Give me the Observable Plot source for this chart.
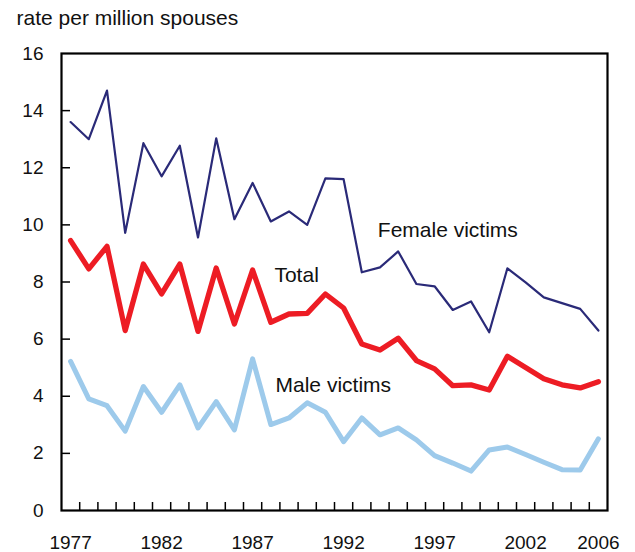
<!DOCTYPE html>
<html>
<head>
<meta charset="utf-8">
<script src="https://cdn.jsdelivr.net/npm/d3@7"></script>
<script src="https://cdn.jsdelivr.net/npm/@observablehq/plot@0.6"></script>
<style>
  html, body { margin: 0; padding: 0; background: #fff; }
</style>
</head>
<body>
<div id="chart"></div>
<script>
const years = [1977, 1978, 1979, 1980, 1981, 1982, 1983, 1984, 1985, 1986,
               1987, 1988, 1989, 1990, 1991, 1992, 1993, 1994, 1995, 1996,
               1997, 1998, 1999, 2000, 2001, 2002, 2003, 2004, 2005, 2006];
const female = [13.6, 13.0, 14.7, 9.72, 12.86, 11.70, 12.77, 9.56, 13.03, 10.2,
                11.47, 10.12, 10.47, 10.0, 11.63, 11.6, 8.34, 8.51, 9.07, 7.93,
                7.85, 7.02, 7.32, 6.24, 8.48, 7.99, 7.46, 7.26, 7.06, 6.30];
const total = [9.45, 8.46, 9.25, 6.30, 8.63, 7.58, 8.63, 6.27, 8.49, 6.53,
               8.42, 6.59, 6.88, 6.90, 7.58, 7.09, 5.83, 5.62, 6.03, 5.25,
               4.96, 4.37, 4.40, 4.22, 5.40, 5.01, 4.61, 4.40, 4.29, 4.51];
const male = [5.22, 3.91, 3.67, 2.78, 4.34, 3.44, 4.40, 2.89, 3.81, 2.82,
              5.31, 3.01, 3.24, 3.77, 3.44, 2.41, 3.24, 2.65, 2.89, 2.47,
              1.92, 1.66, 1.38, 2.12, 2.22, 1.96, 1.69, 1.43, 1.42, 2.51];
const yearLabels = [1977, 1982, 1987, 1992, 1997, 2002, 2006];
const yTicks = [0, 2, 4, 6, 8, 10, 12, 14, 16];
const title = "rate per million spouses";
const seriesLabels = [
  {name: "Female victims", year: 1993.88, value: 9.80},
  {name: "Total", year: 1988.2, value: 8.22},
  {name: "Male victims", year: 1988.26, value: 4.40}
];

const rows = (vals) => years.map((y, i) => ({year: y, value: vals[i]}));
const yearBounds = years.slice(1).map((y) => y - 0.5);
const innerW = 635 - 61 - 28;
const innerH = 552 - 53 - 42;

const chart = Plot.plot({
  width: 635,
  height: 552,
  marginLeft: 61,
  marginRight: 28,
  marginTop: 53,
  marginBottom: 42,
  style: {fontFamily: "'Liberation Sans', Arial, sans-serif", fontSize: "19px", color: "#111", background: "#fff"},
  x: {domain: [years[0] - 0.5, years[years.length - 1] + 0.5], label: null},
  y: {domain: [0, 16], label: null},
  marks: [
    Plot.axisX({ticks: yearLabels, tickSize: 0, tickPadding: 25, tickFormat: (d) => String(d), fontSize: 19, label: null}),
    Plot.axisY({ticks: yTicks, tickSize: 0, tickPadding: 18, fontSize: 19, label: null}),
    Plot.tickX(yearBounds, {x: (d) => d, insetTop: innerH - 8, stroke: "#000", strokeWidth: 1.5}),
    Plot.tickY(yTicks.slice(1, -1), {y: (d) => d, insetRight: innerW - 9, stroke: "#000", strokeWidth: 1.5}),
    Plot.frame({stroke: "#000", strokeWidth: 2.2}),
    Plot.line(rows(male), {x: "year", y: "value", stroke: "#9dcaeb", strokeWidth: 5}),
    Plot.line(rows(total), {x: "year", y: "value", stroke: "#ed1c24", strokeWidth: 5.3}),
    Plot.line(rows(female), {x: "year", y: "value", stroke: "#2a2a78", strokeWidth: 2.2}),
    Plot.text(seriesLabels, {x: "year", y: "value", text: "name", textAnchor: "start", fontSize: 21, fill: "#111"}),
    Plot.text([title], {frameAnchor: "top-left", dx: -45, dy: -43, textAnchor: "start", fontSize: 21, fill: "#111"})
  ]
});
document.getElementById("chart").appendChild(chart);
</script>
</body>
</html>
